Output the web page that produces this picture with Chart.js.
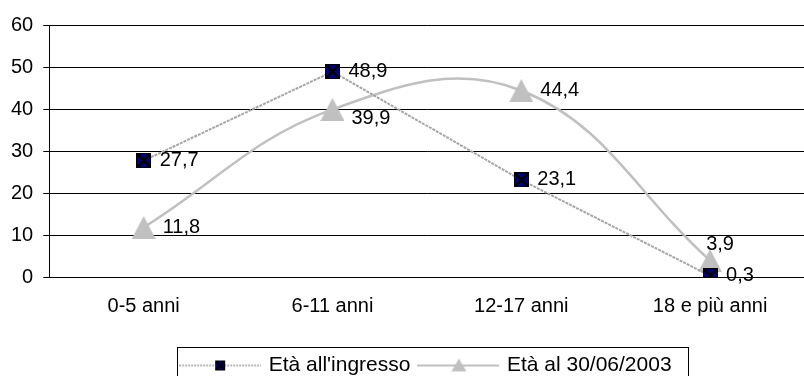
<!DOCTYPE html>
<html>
<head>
<meta charset="utf-8">
<script src="https://cdn.jsdelivr.net/npm/chart.js@4/dist/chart.umd.min.js"></script>
<style>
  html, body { margin: 0; padding: 0; background: #fff; overflow: hidden; width: 804px; height: 376px; }
  canvas { display: block; }
</style>
</head>
<body>
<canvas id="chart" width="819" height="386"></canvas>
<script>
// Age groups and the two distributions (percent)
const categories = ['0-5 anni', '6-11 anni', '12-17 anni', '18 e più anni'];
const seriesNames = ["Età all'ingresso", 'Età al 30/06/2003'];
const etaIngresso = [27.7, 48.9, 23.1, 0.3];
const eta2003 = [11.8, 39.9, 44.4, 3.9];
const yTicks = [0, 10, 20, 30, 40, 50, 60];

const FONT = "'Liberation Sans', Arial, sans-serif";
Chart.defaults.font.family = FONT;
Chart.defaults.color = '#000';

// Navy square marker crossed by a black X
function squareMarker(size) {
  const c = document.createElement('canvas');
  c.width = size; c.height = size;
  const g = c.getContext('2d');
  g.fillStyle = '#000080';
  g.fillRect(0, 0, size, size);
  g.strokeStyle = '#000';
  g.lineWidth = 1;
  g.strokeRect(0.5, 0.5, size - 1, size - 1);
  g.lineWidth = size > 12 ? 2.5 : 2;
  g.beginPath();
  g.moveTo(1, 1); g.lineTo(size - 1, size - 1);
  g.moveTo(size - 1, 1); g.lineTo(1, size - 1);
  g.stroke();
  return c;
}

// Silver triangle marker
function triangleMarker(w, h) {
  const c = document.createElement('canvas');
  c.width = w; c.height = h;
  const g = c.getContext('2d');
  g.fillStyle = '#c0c0c0';
  g.beginPath();
  g.moveTo(w / 2, 0); g.lineTo(w, h); g.lineTo(0, h);
  g.closePath();
  g.fill();
  return c;
}

// Legend sample: a short stretch of line with the marker in the middle
function legendSample(kind, w, h) {
  const c = document.createElement('canvas');
  c.width = w; c.height = h;
  const g = c.getContext('2d');
  const cy = Math.round(h / 2);
  g.beginPath();
  if (kind === 'square') {
    g.strokeStyle = '#a0a0a0';
    g.lineWidth = 1.5;
    g.setLineDash([2, 1]);
  } else {
    g.strokeStyle = '#c0c0c0';
    g.lineWidth = 2;
  }
  g.moveTo(0, cy); g.lineTo(w, cy);
  g.stroke();
  g.setLineDash([]);
  if (kind === 'square') {
    const m = squareMarker(10);
    g.drawImage(m, Math.round(w / 2 - 5), cy - 5);
  } else {
    const m = triangleMarker(15, 13);
    g.drawImage(m, Math.round(w / 2 - 7.5), cy - 7);
  }
  return c;
}

const legendSamples = [legendSample('square', 82, 16), legendSample('triangle', 82, 16)];

// Value labels written with a decimal comma next to each point
const valueLabels = {
  id: 'valueLabels',
  afterDatasetsDraw(chart, args, opts) {
    const ctx = chart.ctx;
    ctx.save();
    ctx.font = '20px ' + FONT;
    ctx.fillStyle = '#000';
    chart.data.datasets.forEach((ds, di) => {
      const meta = chart.getDatasetMeta(di);
      const places = opts.placement[di];
      const gap = opts.gap[di];
      meta.data.forEach((pt, i) => {
        const text = ds.data[i].toFixed(1).replace('.', ',');
        const where = places[i];
        if (where === 'above') {
          ctx.textAlign = 'center';
          ctx.textBaseline = 'middle';
          ctx.fillText(text, pt.x + 10, pt.y - 16);
        } else if (where === 'lowright') {
          ctx.textAlign = 'left';
          ctx.textBaseline = 'middle';
          ctx.fillText(text, pt.x + gap, pt.y + 9);
        } else {
          ctx.textAlign = 'left';
          ctx.textBaseline = 'middle';
          ctx.fillText(text, pt.x + gap, pt.y);
        }
      });
    });
    ctx.restore();
  }
};

// Thin frame around the legend entries
const legendFrame = {
  id: 'legendFrame',
  afterDraw(chart) {
    const L = chart.legend;
    if (!L || !L.legendHitBoxes || !L.legendHitBoxes.length) return;
    const hb = L.legendHitBoxes;
    const last = hb[hb.length - 1];
    const left = Math.round(hb[0].left - 5) + 0.5;
    const right = Math.round(last.left + last.width + 16) + 0.5;
    const top = Math.round(L.top + 2) + 0.5;
    const ctx = chart.ctx;
    ctx.save();
    ctx.strokeStyle = '#000';
    ctx.lineWidth = 1;
    ctx.strokeRect(left, top, right - left, chart.height + 20 - top);
    ctx.restore();
  }
};

new Chart(document.getElementById('chart'), {
  type: 'line',
  data: {
    labels: categories,
    datasets: [
      {
        label: seriesNames[0],
        data: etaIngresso,
        borderColor: '#a6a6a6',
        borderWidth: 2,
        borderDash: [3, 1],
        tension: 0,
        fill: false,
        pointStyle: squareMarker(15),
        pointRadius: 8
      },
      {
        label: seriesNames[1],
        data: eta2003,
        borderColor: '#c0c0c0',
        borderWidth: 2.5,
        tension: 0.4,
        fill: false,
        pointStyle: triangleMarker(24, 23),
        pointRadius: 12
      }
    ]
  },
  options: {
    responsive: false,
    animation: false,
    events: [],
    layout: { padding: { left: 1, top: 25, right: 0, bottom: 0 } },
    scales: {
      x: {
        offset: true,
        grid: { display: false, drawTicks: false },
        border: { display: true, color: '#000', width: 1 },
        ticks: { padding: 17, color: '#000', font: { size: 20 }, maxRotation: 0, autoSkip: false },
        afterFit(scale) { scale.height = 68; }
      },
      y: {
        min: yTicks[0],
        max: yTicks[yTicks.length - 1],
        ticks: { stepSize: yTicks[1] - yTicks[0], padding: 10, color: '#000', font: { size: 20 } },
        grid: { color: '#000', lineWidth: 1, drawTicks: true, tickLength: 6 },
        border: { color: '#000', width: 1 }
      }
    },
    plugins: {
      tooltip: { enabled: false },
      legend: {
        position: 'bottom',
        fullSize: false,
        labels: {
          usePointStyle: true,
          pointStyleWidth: 76,
          padding: 10,
          color: '#000',
          font: { size: 21 },
          generateLabels(chart) {
            return chart.data.datasets.map((ds, i) => ({
              text: ds.label,
              datasetIndex: i,
              pointStyle: legendSamples[i],
              fillStyle: 'transparent',
              strokeStyle: 'transparent',
              lineWidth: 0,
              fontColor: '#000',
              hidden: false
            }));
          }
        }
      },
      valueLabels: {
        placement: [
          ['right', 'right', 'right', 'right'],
          ['right', 'lowright', 'right', 'above']
        ],
        gap: [16, 19]
      }
    }
  },
  plugins: [valueLabels, legendFrame]
});
</script>
</body>
</html>
